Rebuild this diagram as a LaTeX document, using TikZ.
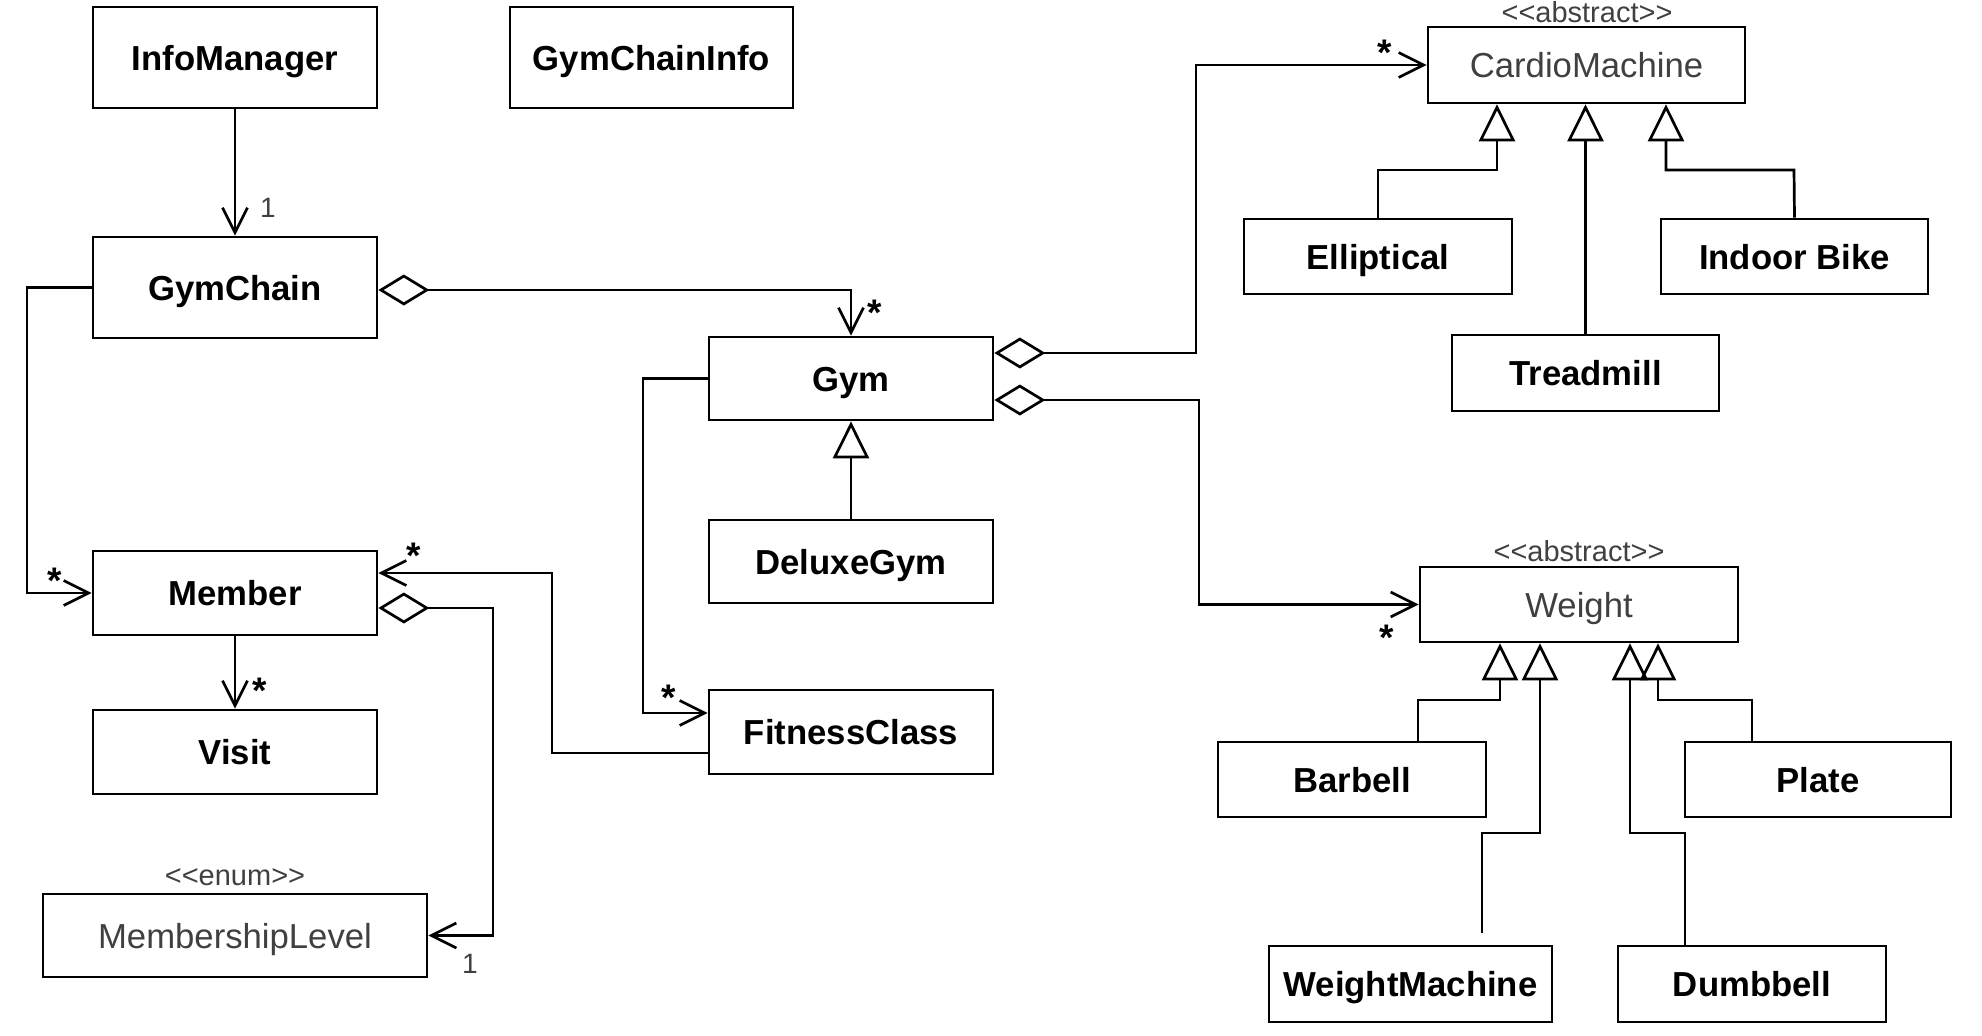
\documentclass[tikz,border=0pt]{standalone}
\usepackage{fontspec}
\setmainfont{Liberation Sans}
\usetikzlibrary{arrows.meta}
\definecolor{tg}{RGB}{64,64,64}
\begin{document}
\begin{tikzpicture}[x=1pt,y=-1pt,
  box/.style={draw, line width=2.7pt, inner sep=0pt, text height=25pt, text depth=0pt, font=\fontsize{34.7}{40}\selectfont\bfseries},
  abox/.style={draw, line width=2.7pt, inner sep=0pt, text height=25pt, text depth=0pt, font=\fontsize{34.7}{40}\selectfont, text=tg},
  stereo/.style={font=\fontsize{29}{34}\selectfont, text=tg, inner sep=0pt},
  mult/.style={font=\fontsize{37}{42}\selectfont\bfseries, inner sep=0pt},
  one/.style={font=\fontsize{28}{32}\selectfont, text=tg, inner sep=0pt},
  conn/.style={line width=2.7pt},
  assoc/.style={conn, -{Straight Barb[length=25pt,width=25pt]}},
  aggr/.style={conn, {Diamond[open,length=51pt,width=31pt]}-{Straight Barb[length=25pt,width=25pt]}},
  gen/.style={conn, -{Triangle[open,length=37pt,width=36pt]}},
]
\useasboundingbox (0,0) rectangle (1982,1036);

% classes
\node[box, minimum width=284pt, minimum height=101pt] (im) at (235,57.5) {InfoManager};
\node[box, minimum width=283pt, minimum height=101pt] (gci) at (651.5,57.5) {GymChainInfo};
\node[box, minimum width=284pt, minimum height=101pt] (gc) at (235,287.5) {GymChain};
\node[box, minimum width=284pt, minimum height=84pt] (mem) at (235,593) {Member};
\node[box, minimum width=284pt, minimum height=84pt] (visit) at (235,752) {Visit};
\node[abox, minimum width=384pt, minimum height=83pt] (ml) at (235,935.5) {MembershipLevel};
\node[stereo] (mlst) at (235,877) {<{}<enum>{}>};
\node[box, minimum width=284pt, minimum height=83pt] (gym) at (851,378.5) {Gym};
\node[box, minimum width=284pt, minimum height=83pt] (dg) at (851,561.5) {DeluxeGym};
\node[box, minimum width=284pt, minimum height=84pt] (fc) at (851,732) {FitnessClass};
\node[abox, minimum width=317pt, minimum height=76pt] (cm) at (1586.5,65) {CardioMachine};
\node[stereo] (cmst) at (1587,12) {<{}<abstract>{}>};
\node[box, minimum width=268pt, minimum height=75pt] (ell) at (1378,256.5) {Elliptical};
\node[box, minimum width=267pt, minimum height=75pt] (ib) at (1794.5,256.5) {Indoor Bike};
\node[box, minimum width=267pt, minimum height=76pt] (tm) at (1585.5,373) {Treadmill};
\node[abox, minimum width=318pt, minimum height=75pt] (w) at (1579,604.5) {Weight};
\node[stereo] (wst) at (1579,551) {<{}<abstract>{}>};
\node[box, minimum width=268pt, minimum height=75pt] (bb) at (1352,779.5) {Barbell};
\node[box, minimum width=266pt, minimum height=75pt] (pl) at (1818,779.5) {Plate};
\node[box, minimum width=283pt, minimum height=76pt] (wm) at (1410.5,984) {WeightMachine};
\node[box, minimum width=268pt, minimum height=76pt] (db) at (1752,984) {Dumbbell};
\coordinate (wmtop) at (1482,933);

% associations
\draw[assoc] (im) -- (gc);
\node[one] at (268,208) {1};

\draw[aggr] (gc.east |- 0,290) -| (gym.north);
\node[mult] at (875,313) {*};

\draw[assoc] (gc.west) -- (27,287.5) |- (mem.west);
\node[mult] at (55,581) {*};

\draw[assoc] (mem) -- (visit);
\node[mult] at (260,691) {*};

\draw[aggr] (mem.east |- 0,608) -- (493,608) |- (ml.east);
\node[one] at (470,964) {1};

\draw[assoc] (fc.west |- 0,753) -- (552,753) -- (552,573) -- (mem.east |- 0,573);
\node[mult] at (414,556) {*};

\draw[assoc] (gym.west) -- (643,378.5) |- (fc.west |- 0,713);
\node[mult] at (669,698) {*};

\draw[gen] (dg) -- (gym);

\draw[aggr] (gym.east |- 0,353) -- (1196,353) |- (cm.west);
\node[mult] at (1385,53) {*};

\draw[aggr] (gym.east |- 0,400) -- (1199,400) |- (w.west);
\node[mult] at (1387,638) {*};

% generalizations
\draw[gen] (ell.north) -- (1378,170) -- (1497,170) -- (cm.south -| 1497,0);
\draw[gen] (tm.north) -- (tm.north |- cm.south);
\draw[gen] (ib.north) -- (1794,170) -- (1666,170) -- (cm.south -| 1666,0);

\draw[gen] (bb.north -| 1418,0) -- (1418,700) -- (1500,700) -- (w.south -| 1500,0);
\draw[gen] (wmtop) -- (1482,833) -- (1540,833) -- (w.south -| 1540,0);
\draw[gen] (db.north -| 1685,0) -- (1685,833) -- (1630,833) -- (w.south -| 1630,0);
\draw[gen] (pl.north -| 1752,0) -- (1752,700) -- (1658,700) -- (w.south -| 1658,0);
\end{tikzpicture}
\end{document}
